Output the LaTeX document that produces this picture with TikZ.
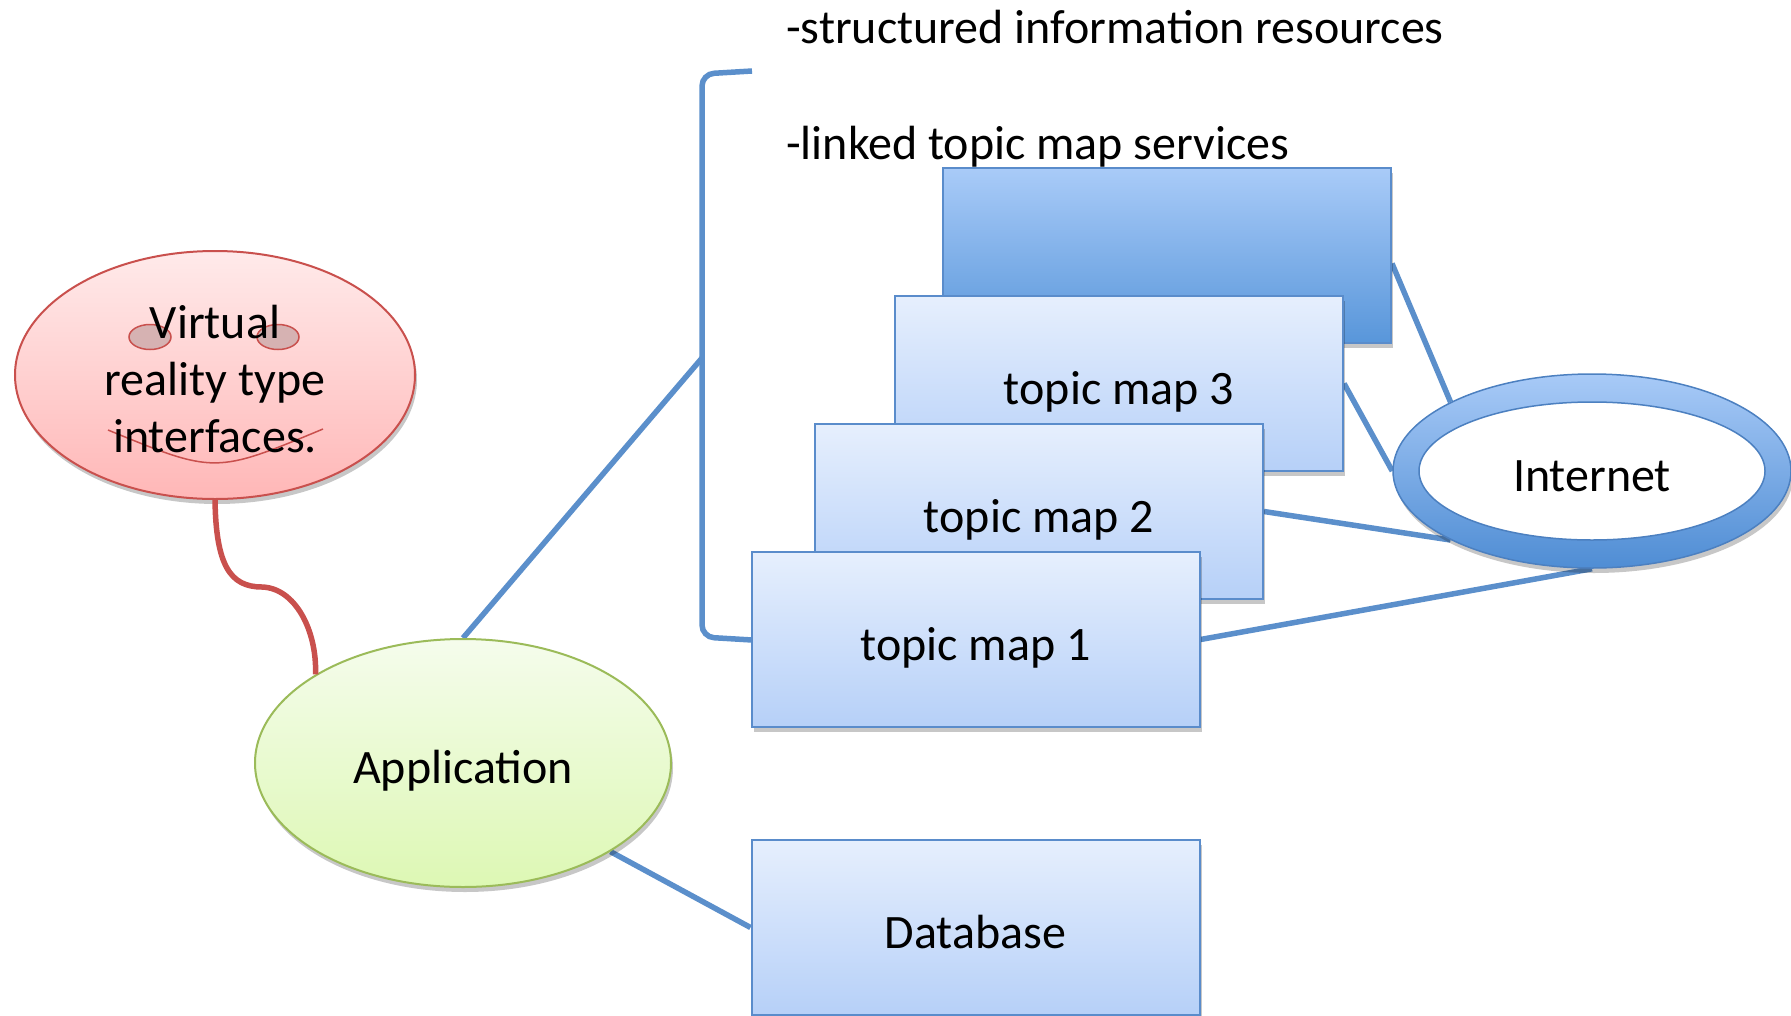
\documentclass[tikz,border=0pt]{standalone}
\usepackage{fontspec}
\setmainfont{Carlito}
\usetikzlibrary{shapes.geometric,shadows}

\definecolor{linkblue}{HTML}{5B8FCB}
\definecolor{boxedge}{HTML}{5A8CCB}
\definecolor{boxtop}{HTML}{E6EFFD}
\definecolor{boxbot}{HTML}{B6D0F8}
\definecolor{darktop}{HTML}{A9CBF8}
\definecolor{darkbot}{HTML}{5896DA}
\definecolor{ringedge}{HTML}{4C80C0}
\definecolor{ringtop}{HTML}{A8CAF7}
\definecolor{ringbot}{HTML}{4F8DD4}
\definecolor{vredge}{HTML}{C9504D}
\definecolor{vrtop}{HTML}{FFEAEA}
\definecolor{vrbot}{HTML}{FFB7B7}
\definecolor{eyefill}{HTML}{D6B2B2}
\definecolor{appedge}{HTML}{9BBB59}
\definecolor{apptop}{HTML}{F5FCEC}
\definecolor{appbot}{HTML}{DDF8B4}

\pgfdeclarelayer{links}
\pgfsetlayers{links,main}

\tikzset{
  bigtext/.style={font=\fontsize{48}{57}\selectfont},
  onetext/.style={bigtext, text height=41pt, text depth=0pt},
  softshadow/.style={drop shadow={shadow xshift=2pt, shadow yshift=-5pt, opacity=0.22, fill=black}},
  mapbox/.style={rectangle, draw=boxedge, line width=2pt, top color=boxtop, bottom color=boxbot,
    minimum width=448pt, minimum height=175pt, inner sep=0pt, onetext, softshadow},
  darkbox/.style={mapbox, top color=darktop, bottom color=darkbot},
  bubble/.style={ellipse, inner sep=0pt, line width=2pt, softshadow},
  link/.style={draw=linkblue, line width=5.5pt},
  redlink/.style={draw=vredge, line width=5.5pt},
}

\begin{document}
\begin{tikzpicture}[x=1pt, y=-1pt]
\useasboundingbox (0,0) rectangle (1791,1015);
\clip (0,0) rectangle (1791,1015);

% headings
\node[bigtext, anchor=west, inner sep=0pt] (h1) at (786,27) {-structured information resources};
\node[bigtext, anchor=west, inner sep=0pt] (h2) at (786,147) {-linked topic map services};

% stacked topic map boxes
\node[darkbox] (tmtop) at (1167,255.5) {};
\node[mapbox] (tm3) at (1119,383.5) {topic map 3};
\node[mapbox] (tm2) at (1039,511.5) {topic map 2};
\node[mapbox] (tm1) at (975.5,639.5) {topic map 1};
\node[mapbox] (db) at (975.5,927.5) {Database};

% Internet ring
\node[bubble, draw=ringedge, line width=1.5pt, top color=ringtop, bottom color=ringbot,
      minimum width=398pt, minimum height=194pt] (inet) at (1592,471) {};
\node[ellipse, inner sep=0pt, draw=ringedge, line width=1.5pt, fill=white,
      minimum width=346pt, minimum height=138pt, onetext] (inetin) at (inet.center) {Internet};

% application
\node[bubble, draw=appedge, top color=apptop, bottom color=appbot,
      minimum width=416pt, minimum height=248pt, onetext] (app) at (463,763) {Application};

% virtual reality face
\node[bubble, draw=vredge, top color=vrtop, bottom color=vrbot,
      minimum width=400pt, minimum height=248pt] (vr) at (215,375) {};
\node[ellipse, draw=vredge, line width=1.5pt, fill=eyefill, minimum width=42pt, minimum height=25pt, inner sep=0pt] (eyeL) at (150,337) {};
\node[ellipse, draw=vredge, line width=1.5pt, fill=eyefill, minimum width=42pt, minimum height=25pt, inner sep=0pt] (eyeR) at (278,337) {};
\coordinate (smileL) at (108,430);
\coordinate (smileR) at (323,429);
\draw[draw=vredge, line width=1.5pt] (smileL) .. controls (215,474) .. (smileR);
\node[bigtext, align=center, inner sep=0pt] (vrtext) at (215,379) {Virtual\\reality type\\interfaces.};

% bracket
\coordinate (brT) at (752,71);
\coordinate (brB) at (752,640);
\coordinate (brJ) at (702,358);

\begin{pgfonlayer}{links}
  \draw[link, rounded corners=12pt] (brT) -- (702,74) -- (702,637) -- (brB);
  \draw[link] (app.north) -- (brJ);
  \draw[link] (app.-31) -- (db.west);
  \draw[link] ([yshift=-8pt]tmtop.east) -- (inet.154);
  \draw[link] (tm3.east) -- (inet.west);
  \draw[link] (tm2.east) -- (inet.206);
  \draw[link] (tm1.east) -- (inet.south);
\end{pgfonlayer}

\draw[redlink] (vr.south) .. controls (216,565) and (230,587) .. (262,587)
                .. controls (295,588) and (317,630) .. (app.149);
\end{tikzpicture}
\end{document}
